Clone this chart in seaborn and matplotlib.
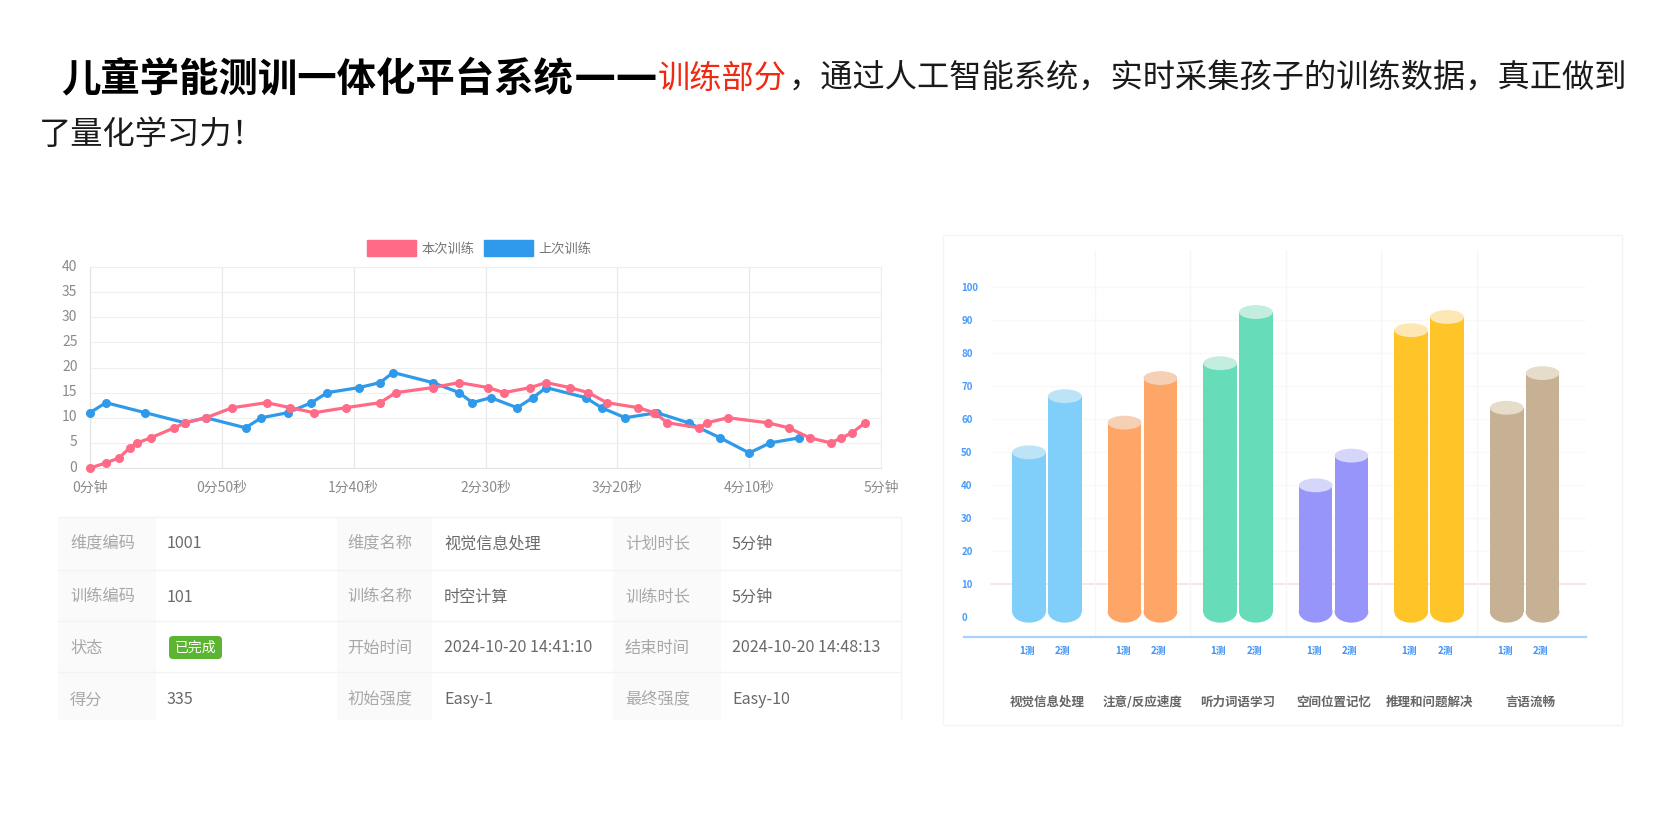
import matplotlib
matplotlib.use('Agg')
import matplotlib.pyplot as plt
from matplotlib.patches import Ellipse, FancyBboxPatch, Patch, Rectangle
from matplotlib.transforms import ScaledTranslation
import pandas as pd
import seaborn as sns

W, H = 1666, 840

# line chart data: seconds, score
now_sec = [0, 6, 11, 15, 18, 23, 32, 36, 44, 54, 67, 76, 85, 97, 110, 116, 130, 140, 151, 157,
           167, 173, 182, 189, 196, 208, 214, 219, 231, 234, 242, 257, 265, 273, 281, 285, 289, 294]
now_val = [0, 1, 2, 4, 5, 6, 8, 9, 10, 12, 13, 12, 11, 12, 13, 15, 16, 17, 16, 15,
           16, 17, 16, 15, 13, 12, 11, 9, 8, 9, 10, 9, 8, 6, 5, 6, 7, 9]
last_sec = [0, 6, 21, 36, 44, 59, 65, 75, 84, 90, 102, 110, 115, 130, 140, 145, 152, 162,
            168, 173, 188, 194, 203, 215, 227, 239, 250, 258, 269]
last_val = [11, 13, 11, 9, 10, 8, 10, 11, 13, 15, 16, 17, 19, 17, 15, 13, 14, 12,
            14, 16, 14, 12, 10, 11, 9, 6, 3, 5, 6]
x_ticks = [0, 50, 100, 150, 200, 250, 300]
x_labels = ['0分钟', '0分50秒', '1分40秒', '2分30秒', '3分20秒', '4分10秒', '5分钟']
y_ticks = [0, 5, 10, 15, 20, 25, 30, 35, 40]

# bar chart data
groups = ['视觉信息处理', '注意/反应速度', '听力词语学习', '空间位置记忆', '推理和问题解决', '言语流畅']
test_1 = [50, 59, 77, 40, 87, 63.5]
test_2 = [67, 72.5, 92.5, 49, 91, 74]
bar_colors = ['#80cffb', '#fea568', '#66ddb8', '#9795fa', '#fec428', '#c6b195']
cap_colors = ['#bde4f6', '#f6d0b4', '#c3eedf', '#d6d6fa', '#fde8b4', '#e6dcca']
bar_ticks = list(range(0, 101, 10))

# table
label_cols = [['维度编码', '训练编码', '状态', '得分'],
              ['维度名称', '训练名称', '开始时间', '初始强度'],
              ['计划时长', '训练时长', '结束时间', '最终强度']]
value_cols = [['1001', '101', '', '335'],
              ['视觉信息处理', '时空计算', '2024-10-20 14:41:10', 'Easy-1'],
              ['5分钟', '5分钟', '2024-10-20 14:48:13', 'Easy-10']]


def add_axes(fig, x0, y0, x1, y1):
    # pixel box, y counted from the top
    return fig.add_axes([x0 / W, 1 - y1 / H, (x1 - x0) / W, (y1 - y0) / H])


def nudge(ax, lab, dx, dy):
    # move a tick label by some points
    lab.set_transform(lab.get_transform() + ScaledTranslation(dx / 72, dy / 72, ax.figure.dpi_scale_trans))


def draw_text(bg):
    y1, y2 = 79, 135
    size = 23.2
    bg.text(61, y1, '儿童学能测训一体化平台系统', fontsize=28.4, fontweight='bold', color='#000000', va='center')
    bg.text(574, y1 - 2, '——', fontsize=30.6, family='DejaVu Sans', fontweight='bold', color='#000000', va='center')
    bg.text(658, y1, '训练部分', fontsize=size, color='#f02a12', va='center')
    bg.text(789, y1, '，通过人工智能系统，实时采集孩子的训练数据，真正做到', fontsize=size, color='#1a1a1a', va='center')
    bg.text(39, y2, '了量化学习力！', fontsize=size, color='#1a1a1a', va='center')


def draw_table(bg):
    col_edges = [58, 156, 337, 432, 613, 721, 901]
    row_edges = [517, 570, 621, 672, 720]
    row_mid = [542, 595, 646, 698]
    label_x = [70, 347, 625]
    value_x = [167, 444, 732]
    for i in range(3):
        bg.add_patch(Rectangle((col_edges[i * 2], row_edges[0]), col_edges[i * 2 + 1] - col_edges[i * 2],
                               row_edges[-1] - row_edges[0], color='#fafafa', lw=0))
        for r in range(4):
            bg.text(label_x[i], row_mid[r], label_cols[i][r], fontsize=11.7, color='#a8a8a8', va='center_baseline')
            bg.text(value_x[i], row_mid[r], value_cols[i][r], fontsize=11.6, color='#6a6a6a', va='center_baseline')
    for y in row_edges[:-1]:
        bg.plot([col_edges[0], col_edges[-1]], [y, y], color='#f3f3f3', lw=1)
    bg.plot([col_edges[-1], col_edges[-1]], [row_edges[0], row_edges[-1]], color='#f5f5f5', lw=1)
    bg.add_patch(FancyBboxPatch((171, 638), 49, 19, boxstyle='round,pad=2,rounding_size=4', color='#5cb531', lw=0))
    bg.text(195.5, 646, '已完成', fontsize=10, color='white', ha='center', va='center_baseline')


def draw_lines(ax):
    df = pd.concat([
        pd.DataFrame({'sec': last_sec, 'val': last_val, 'series': '上次训练'}),
        pd.DataFrame({'sec': now_sec, 'val': now_val, 'series': '本次训练'}),
    ])
    sns.lineplot(data=df, x='sec', y='val', hue='series', hue_order=['上次训练', '本次训练'],
                 palette=['#2f9ae9', '#ff6a86'], marker='o', markersize=6.5, markeredgewidth=0,
                 linewidth=2.3, estimator=None, sort=False, ax=ax, clip_on=False, zorder=3)
    ax.set_xlim(0, 300)
    ax.set_ylim(0, 40)
    ax.set_xticks(x_ticks, x_labels)
    ax.set_yticks(y_ticks)
    ax.set_xlabel('')
    ax.set_ylabel('')
    ax.grid(True, axis='y', color='#f0f0f0', lw=0.8)
    ax.grid(True, axis='x', color='#e8e8e8', lw=0.8)
    ax.set_axisbelow(True)
    ax.tick_params(length=6, width=0.8, color='#eeeeee', labelcolor='#8a8a8a', labelsize=10, pad=3)
    for lab in ax.get_yticklabels():
        nudge(ax, lab, 0, 1.4)
    for side in ['top', 'right']:
        ax.spines[side].set_color('#eeeeee')
        ax.spines[side].set_linewidth(0.8)
    for side in ['left', 'bottom']:
        ax.spines[side].set_color('#e2e2e2')
        ax.spines[side].set_linewidth(0.8)
    handles = [Patch(color='#ff6a86', label='本次训练'), Patch(color='#2f9ae9', label='上次训练')]
    ax.legend(handles=handles, loc='lower center', bbox_to_anchor=(0.492, 1.055), ncol=2, frameon=False,
              fontsize=9.5, labelcolor='#777777', handlelength=3.7, handleheight=1.45,
              handletextpad=0.45, columnspacing=0.7, borderpad=0, borderaxespad=0)


def draw_bars(ax):
    df = pd.DataFrame({'group': groups * 2, 'score': test_1 + test_2,
                       'test': ['1测'] * len(groups) + ['2测'] * len(groups)})
    sns.barplot(data=df, x='group', y='score', hue='test', order=groups, width=0.75, gap=0.06,
                legend=False, ax=ax, zorder=3)
    ax.set_xlim(-0.868, 5.642)
    ax.set_ylim(-5.8, 111.3)
    bars = [b for b in ax.patches if b.get_height() > 0]
    base = 1.7
    minor_pos = []
    for i, bar in enumerate(bars):
        g = i % len(groups)
        c = bar.get_x() + bar.get_width() / 2
        w = bar.get_width()
        top = bar.get_height()
        minor_pos.append(c)
        bar.set_y(base)
        bar.set_height(top - base)
        bar.set_facecolor(bar_colors[g])
        bar.set_edgecolor('none')
        ax.add_patch(Ellipse((c, base), w, 6.6, color=bar_colors[g], lw=0, zorder=3))
        ax.add_patch(Ellipse((c, top), w, 4.2, color=cap_colors[g], lw=0, zorder=4))

    ax.set_yticks(bar_ticks)
    ax.set_xticks(range(len(groups)), groups)
    ax.set_xticks(minor_pos, ['1测'] * len(groups) + ['2测'] * len(groups), minor=True)
    ax.tick_params(axis='x', which='major', length=0, pad=42.7, labelsize=9, labelcolor='#666666')
    ax.tick_params(axis='x', which='minor', length=0, pad=6.7, labelsize=7, labelcolor='#3f93f5')
    ax.tick_params(axis='y', length=0, labelsize=7, labelcolor='#4a9cfb', pad=2)
    for lab in ax.get_yticklabels():
        lab.set_horizontalalignment('left')
        lab.set_verticalalignment('center_baseline')
        lab.set_fontweight('bold')
    for lab in ax.get_xticklabels():
        lab.set_fontweight('bold')
    nudge(ax, ax.get_xticklabels()[-1], 4.3, 0)
    for lab in ax.get_xticklabels(minor=True):
        lab.set_fontweight('bold')
        nudge(ax, lab, -1.4, 0)
    ax.set_xlabel('')
    ax.set_ylabel('')
    for v in bar_ticks:
        if 20 <= v <= 100:
            ax.axhline(v, xmin=0.043, color='#f9f9f9', lw=1, zorder=1)
    ax.axhline(10, xmin=0.043, color='#fbdfe0', lw=1.2, zorder=1)
    for g in range(len(groups) - 1):
        ax.axvline(g + 0.5, color='#f6f6f6', lw=1, zorder=1)
    for side in ['top', 'right', 'left']:
        ax.spines[side].set_visible(False)
    ax.spines['bottom'].set_color('#a5d2fb')
    ax.spines['bottom'].set_linewidth(1.6)
    ax.patch.set_alpha(0)


def main():
    sns.set_theme(style='white')
    plt.rcParams['font.family'] = ['Noto Sans CJK SC', 'DejaVu Sans']
    fig = plt.figure(figsize=(W / 100, H / 100), dpi=100, facecolor='white')

    bg = add_axes(fig, 0, 0, W, H)
    bg.set_xlim(0, W)
    bg.set_ylim(H, 0)
    bg.axis('off')
    draw_text(bg)
    draw_table(bg)
    bg.add_patch(Rectangle((943, 235), 679, 490, fill=False, edgecolor='#f4f4f4', lw=1))

    draw_lines(add_axes(fig, 90, 267, 881, 468))
    draw_bars(add_axes(fig, 964, 250, 1586, 636.5))

    fig.savefig('out.png', dpi=100)


if __name__ == '__main__':
    main()
